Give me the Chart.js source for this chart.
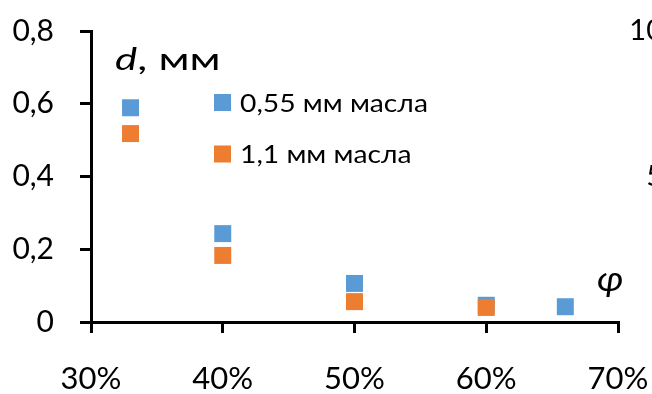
<!DOCTYPE html>
<html>
<head>
<meta charset="utf-8">
<script src="https://cdn.jsdelivr.net/npm/chart.js@4.4.0/dist/chart.umd.min.js"></script>
<style>
  html, body { margin: 0; padding: 0; overflow: hidden; background: #fff; }
</style>
</head>
<body>
<canvas id="chart" width="663" height="394"></canvas>
<script>
// data
var thinPhi = [0.33, 0.40, 0.50, 0.60, 0.66]
var thinD = [0.589, 0.243, 0.106, 0.046, 0.042]
var thickPhi = [0.33, 0.40, 0.50, 0.60]
var thickD = [0.518, 0.183, 0.056, 0.040]
var seriesNames = ['0,55 мм масла', '1,1 мм масла']
var seriesColors = ['#5B9BD5', '#ED7D31']

var xTickValues = [0.3, 0.4, 0.5, 0.6, 0.7]
var xTickLabels = ['30%', '40%', '50%', '60%', '70%']
var yTickValues = [0, 0.2, 0.4, 0.6, 0.8]
var yTickLabels = ['0', '0,2', '0,4', '0,6', '0,8']
var rightTickValues = [5, 10]
var rightTickLabels = ['5', '10']

var FONT = 'Lato, "Open Sans", sans-serif'

function toPoints(xs, ys) {
  return xs.map(function (x, i) { return { x: x, y: ys[i] } })
}

function fixedTicks(values) {
  return function (scale) {
    scale.ticks = values.map(function (v) { return { value: v } })
  }
}

function labelFor(values, labels) {
  return function (value) {
    var i = values.indexOf(value)
    return i < 0 ? '' : labels[i]
  }
}

// fixed axis size, and no extra room asked for overhanging labels
function fitTo(dim, size) {
  return function (s) {
    s[dim] = size
    s.paddingTop = s.paddingBottom = s.paddingLeft = s.paddingRight = 0
  }
}

// text stretched sideways so it keeps the reference's width
function wideText(ctx, text, x, y, sx) {
  ctx.save()
  ctx.translate(x, y)
  ctx.scale(sx, 1)
  ctx.fillText(text, 0, 0)
  var w = ctx.measureText(text).width * sx
  ctx.restore()
  return w
}

// axis titles and the in-plot legend
var annotations = {
  id: 'annotations',
  afterDraw: function (chart) {
    var ctx = chart.ctx
    ctx.save()
    ctx.fillStyle = '#000'
    ctx.textBaseline = 'alphabetic'
    ctx.textAlign = 'left'

    ctx.font = 'italic 31px ' + FONT
    var w = wideText(ctx, 'd', 115, 70, 1.35)
    ctx.font = '31px ' + FONT
    wideText(ctx, ', мм', 115 + w, 70, 1.42)

    ctx.font = 'italic 35px ' + FONT
    wideText(ctx, 'φ', 597, 291, 1.1)

    ctx.font = '25px ' + FONT
    var rows = [94, 145.5]
    for (var i = 0; i < seriesNames.length; i++) {
      ctx.fillStyle = seriesColors[i]
      ctx.fillRect(214, rows[i], 17, 17)
      ctx.fillStyle = '#000'
      wideText(ctx, seriesNames[i], 240, rows[i] + 17.5, 1.13)
    }
    ctx.restore()
  }
}

var ctx = document.getElementById('chart').getContext('2d')
var chart = new Chart(ctx, {
  type: 'scatter',
  data: {
    datasets: [{
      label: seriesNames[0],
      data: toPoints(thinPhi, thinD),
      backgroundColor: seriesColors[0],
      borderColor: seriesColors[0],
      order: 1
    }, {
      label: seriesNames[1],
      data: toPoints(thickPhi, thickD),
      backgroundColor: seriesColors[1],
      borderColor: seriesColors[1],
      order: 0
    }]
  },
  plugins: [annotations],
  options: {
    responsive: false,
    animation: false,
    layout: { padding: { top: 31, left: 0, right: 0, bottom: 0 } },
    elements: {
      point: { pointStyle: 'rect', radius: 12, hoverRadius: 12, borderWidth: 0 }
    },
    plugins: {
      legend: { display: false },
      tooltip: { enabled: false }
    },
    scales: {
      x: {
        type: 'linear',
        min: 0.3,
        max: 0.7,
        afterBuildTicks: fixedTicks(xTickValues),
        afterFit: fitTo('height', 72),
        border: { display: true, color: '#000', width: 3 },
        grid: { drawOnChartArea: false, drawTicks: true, tickLength: 11, tickWidth: 3, tickColor: '#000', lineWidth: 3 },
        ticks: {
          color: '#000',
          padding: 27,
          maxRotation: 0,
          font: { family: FONT, size: 31 },
          callback: labelFor(xTickValues, xTickLabels)
        }
      },
      y: {
        min: 0,
        max: 0.8,
        afterBuildTicks: fixedTicks(yTickValues),
        afterFit: fitTo('width', 91),
        border: { display: true, color: '#000', width: 3 },
        grid: { drawOnChartArea: false, drawTicks: true, tickLength: 11, tickWidth: 3, tickColor: '#000', lineWidth: 3 },
        ticks: {
          color: '#000',
          padding: 26,
          font: { family: FONT, size: 30 },
          callback: labelFor(yTickValues, yTickLabels)
        }
      },
      y2: {
        position: 'right',
        min: 0,
        max: 10,
        afterBuildTicks: fixedTicks(rightTickValues),
        afterFit: fitTo('width', 45),
        border: { display: false },
        grid: { display: false, drawTicks: false },
        ticks: {
          color: '#000',
          padding: 6,
          crossAlign: 'far',
          font: { family: FONT, size: 29 },
          callback: labelFor(rightTickValues, rightTickLabels)
        }
      }
    }
  }
})
</script>
</body>
</html>
